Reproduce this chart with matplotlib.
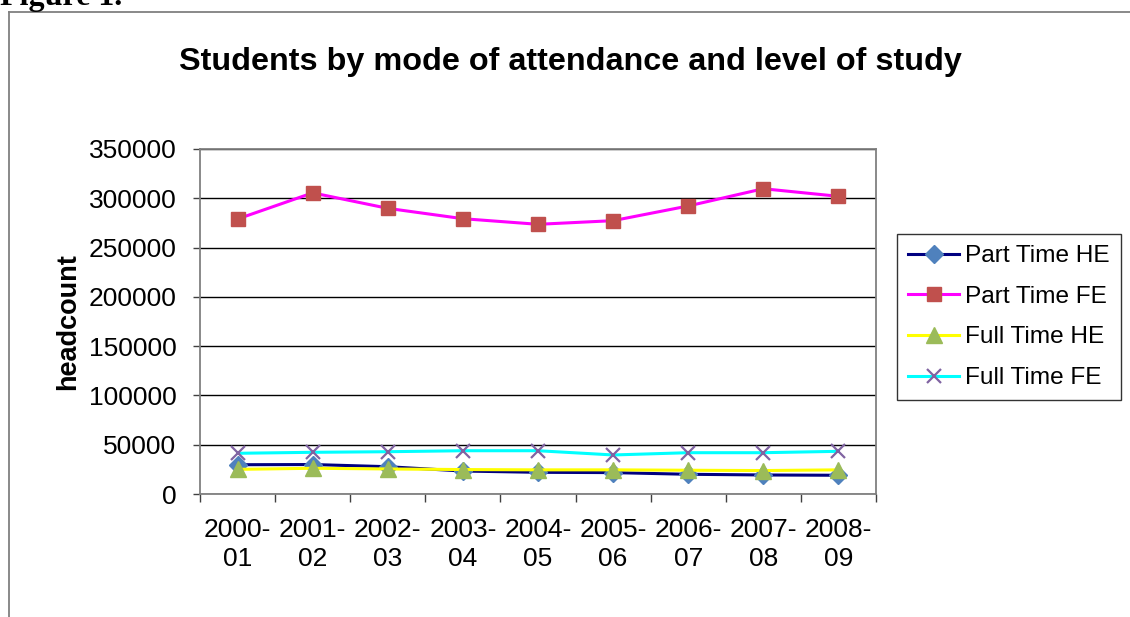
import matplotlib.pyplot as plt
from matplotlib.lines import Line2D

plt.rcParams['font.family'] = ['Liberation Sans', 'DejaVu Sans']

years = ['2000-\n01', '2001-\n02', '2002-\n03', '2003-\n04', '2004-\n05',
         '2005-\n06', '2006-\n07', '2007-\n08', '2008-\n09']
part_time_he = [29700, 29900, 27700, 23300, 22000, 21700, 20000, 19300, 19000]
part_time_fe = [279000, 305500, 289800, 279300, 273600, 277300, 292200, 309700, 302000]
full_time_he = [25000, 26100, 25400, 24800, 24500, 24500, 24100, 23800, 24500]
full_time_fe = [41300, 42300, 42900, 43900, 43900, 39600, 41900, 41900, 43300]

W, H = 1130, 617
fig = plt.figure(figsize=(W / 100, H / 100), dpi=100)
ax = fig.add_axes([200 / W, 1 - 494 / H, 676 / W, 345 / H])

x = list(range(len(years)))
ax.plot(x, part_time_he, color='#000080', lw=2.2, marker='D', ms=9,
        mfc='#4F81BD', mec='#4F81BD', label='Part Time HE', zorder=3)
ax.plot(x, part_time_fe, color='#FF00FF', lw=2.2, marker='s', ms=10,
        mfc='#C0504D', mec='#C0504D', label='Part Time FE', zorder=3)
ax.plot(x, full_time_he, color='#FFFF00', lw=2.2, marker='^', ms=11,
        mfc='#9BBB59', mec='#9BBB59', label='Full Time HE', zorder=3)
ax.plot(x, full_time_fe, color='#00FFFF', lw=2.2, marker='x', ms=10, mew=1.6,
        mfc='#8064A2', mec='#8064A2', label='Full Time FE', zorder=3)

ax.set_xlim(-0.5, len(years) - 0.5)
ax.set_ylim(0, 350000)
ax.set_yticks(range(0, 350001, 50000))
ax.yaxis.grid(True, color='black', lw=1)
ax.set_axisbelow(True)

# category labels in the middle, tick marks on the boundaries
ax.set_xticks(x)
ax.set_xticklabels(years, fontsize=19, linespacing=1.3)
ax.set_xticks([i - 0.5 for i in range(len(years) + 1)], minor=True)
ax.tick_params(axis='x', which='major', length=0, pad=17)
ax.tick_params(axis='x', which='minor', length=6, width=1, color='#404040')
ax.tick_params(axis='y', length=5, width=1, color='#404040', pad=12, labelsize=19)

for s in ax.spines.values():
    s.set_color('#808080')
    s.set_linewidth(1.3)

ax.set_ylabel('headcount', fontsize=19.5, fontweight='bold', labelpad=5)

fig.text(570 / W, 1 - 70 / H, 'Students by mode of attendance and level of study',
         ha='center', va='baseline', fontsize=23.3, fontweight='bold')

leg = ax.legend(loc='upper left', bbox_to_anchor=(897 / W, 1 - 234 / H),
                bbox_transform=fig.transFigure, fontsize=17.6, frameon=True,
                fancybox=False, edgecolor='black', handlelength=2.1,
                handletextpad=0.25, labelspacing=0.76, borderpad=0.45,
                borderaxespad=0)
leg.get_frame().set_linewidth(1)

# outer chart frame (top and left edges visible)
fig.add_artist(Line2D([9 / W, 1], [1 - 12 / H, 1 - 12 / H], color='#808080', lw=1.3))
fig.add_artist(Line2D([9 / W, 9 / W], [0, 1 - 12 / H], color='#808080', lw=1.3))

fig.text(0, 1 - 5 / H, 'Figure 1.', family='Liberation Serif', fontweight='bold',
         fontsize=23, ha='left', va='baseline')

fig.savefig('out.png', dpi=100)
